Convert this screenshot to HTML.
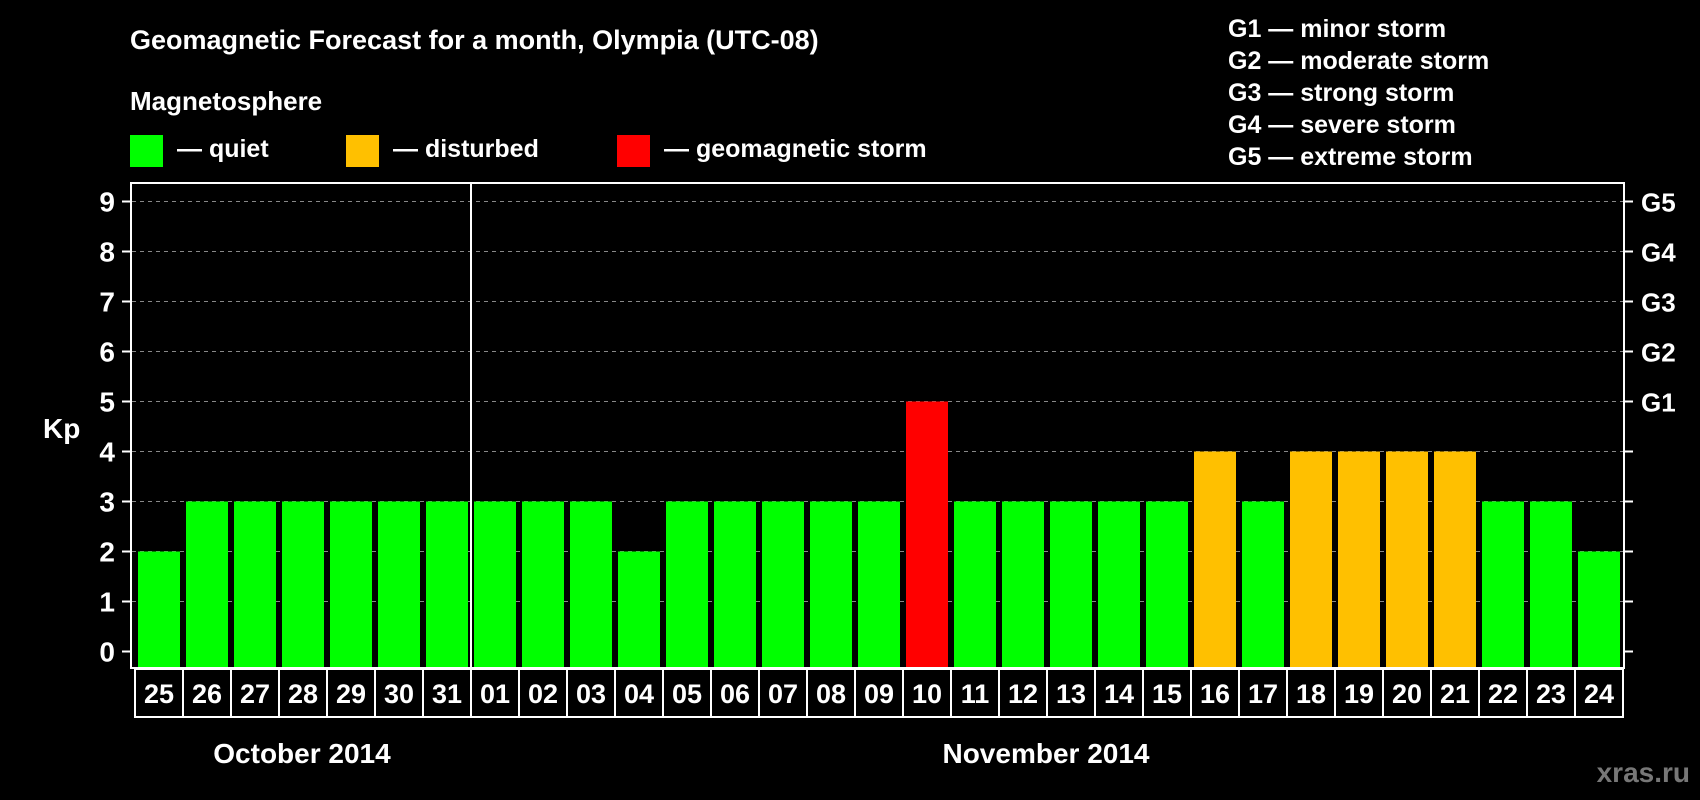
<!DOCTYPE html>
<html><head><meta charset="utf-8"><style>
html,body{margin:0;padding:0;background:#000;}
svg{display:block;font-family:"Liberation Sans",Arial,sans-serif;font-weight:bold;}
</style></head><body>
<svg id="chart" width="1700" height="800" viewBox="0 0 1700 800" xmlns="http://www.w3.org/2000/svg">
<rect width="1700" height="800" fill="#000"/>
<text x="130" y="49" fill="#fff" font-size="27">Geomagnetic Forecast for a month, Olympia (UTC-08)</text>
<text x="130" y="110" fill="#fff" font-size="26">Magnetosphere</text>
<g><rect x="130" y="135" width="33" height="32" fill="#00ff00"/><text x="177" y="157" fill="#fff" font-size="25">— quiet</text></g>
<g><rect x="346" y="135" width="33" height="32" fill="#ffc000"/><text x="393" y="157" fill="#fff" font-size="25">— disturbed</text></g>
<g><rect x="617" y="135" width="33" height="32" fill="#ff0000"/><text x="664" y="157" fill="#fff" font-size="25">— geomagnetic storm</text></g>
<g fill="#fff" font-size="25">
<text x="1228" y="37">G1 — minor storm</text>
<text x="1228" y="69">G2 — moderate storm</text>
<text x="1228" y="101">G3 — strong storm</text>
<text x="1228" y="133">G4 — severe storm</text>
<text x="1228" y="165">G5 — extreme storm</text>
</g>
<text x="43" y="438" fill="#fff" font-size="28">Kp</text>
<g id="grid"></g><g id="bars"></g><g id="axes"></g><g id="labels"></g>
<text x="302" y="763" fill="#fff" font-size="28" text-anchor="middle">October 2014</text>
<text x="1046" y="763" fill="#fff" font-size="28" text-anchor="middle">November 2014</text>
<text x="1690" y="782" fill="#777" font-size="28" text-anchor="end">xras.ru</text>
</svg>
<script>
const days = ["25","26","27","28","29","30","31","01","02","03","04","05","06","07","08","09","10","11","12","13","14","15","16","17","18","19","20","21","22","23","24"];
const kpValues = [2,3,3,3,3,3,3,3,3,3,2,3,3,3,3,3,5,3,3,3,3,3,4,3,4,4,4,4,3,3,2];
const yTicks = [0,1,2,3,4,5,6,7,8,9];
const gLabels = [[5,"G1"],[6,"G2"],[7,"G3"],[8,"G4"],[9,"G5"]];
const NS="http://www.w3.org/2000/svg";
const X0=135, SLOT=48, Y0=651.5, UNIT=50, TOP=183, BOT=668, RIGHT=1624;
const xs=i=>X0+i*SLOT, ys=v=>Y0-v*UNIT;
function mk(p,tag,a){const e=document.createElementNS(NS,tag);for(const k in a)e.setAttribute(k,a[k]);document.getElementById(p).appendChild(e);return e;}
yTicks.forEach(v=>{
  if(v>0){const l=mk('grid','line',{x1:132,x2:RIGHT,y1:ys(v),y2:ys(v),stroke:'#888','stroke-width':1,'stroke-dasharray':'4,4'});
  
  }
  const t=mk('axes','line',{x1:122,x2:131,y1:ys(v),y2:ys(v),stroke:'#fff','stroke-width':2});
  
  
  const t2=mk('axes','line',{x1:RIGHT,x2:RIGHT+9,y1:ys(v),y2:ys(v),stroke:'#fff','stroke-width':2});
  
  
  const tx=mk('axes','text',{x:115,y:ys(v)+10,fill:'#fff','font-size':28,'text-anchor':'end'});tx.textContent=v;
  
  
});
gLabels.forEach(([v,g])=>{const tx=mk('axes','text',{x:1641,y:ys(v)+10,fill:'#fff','font-size':26});tx.textContent=g;
  
  });
kpValues.forEach((v,i)=>{
  const c=v>=5?'#ff0000':(v>=4?'#ffc000':'#00ff00');
  const r=mk('bars','rect',{x:xs(i)+3,y:ys(v),width:42,height:BOT-1-ys(v),fill:c});
  
  
  const b=mk('labels','rect',{x:xs(i),y:669,width:SLOT,height:48,fill:'none',stroke:'#fff','stroke-width':2});
  
  
  const t=mk('labels','text',{x:xs(i)+SLOT/2,y:703,fill:'#fff','font-size':27,'text-anchor':'middle'});t.textContent=days[i];
  
  
});
const f=mk('axes','rect',{x:131,y:TOP,width:RIGHT-131,height:BOT-TOP,fill:'none',stroke:'#fff','stroke-width':2});


const sep=mk('axes','line',{x1:xs(days.indexOf("01")),x2:xs(days.indexOf("01")),y1:TOP,y2:BOT,stroke:'#fff','stroke-width':2});


</script>
</body></html>
